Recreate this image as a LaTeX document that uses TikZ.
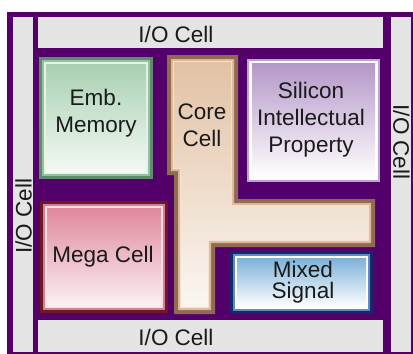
\documentclass[tikz,border=0pt]{standalone}
\usepackage{fontspec}
\setmainfont{Liberation Sans}
\definecolor{bgpurple}{RGB}{83,0,106}
\definecolor{iogray}{RGB}{228,228,228}
\definecolor{embdark}{HTML}{5E8C6C}
\definecolor{embmid}{HTML}{92C29E}
\definecolor{emblight}{HTML}{E6F2E8}
\definecolor{embtop}{HTML}{A9D0B2}
\definecolor{embbot}{HTML}{F3F9F4}
\definecolor{megadark}{HTML}{6E1822}
\definecolor{megamid}{HTML}{D47F96}
\definecolor{megalight}{HTML}{F6E0E6}
\definecolor{megatop}{HTML}{E0899D}
\definecolor{megabot}{HTML}{FBF0F3}
\definecolor{mixdark}{HTML}{17286A}
\definecolor{mixmid}{HTML}{5C8EC2}
\definecolor{mixlight}{HTML}{FFFFFF}
\definecolor{mixtop}{HTML}{7EB2D8}
\definecolor{mixbot}{HTML}{FFFFFF}
\definecolor{silouter}{HTML}{BDA4D4}
\definecolor{siltop}{HTML}{B497C8}
\definecolor{silbot}{HTML}{FFFFFF}
\definecolor{corebrown}{HTML}{8D6C52}
\definecolor{coretan}{HTML}{E0B794}
\definecolor{corelight}{HTML}{F3E2D4}
\definecolor{coretop}{HTML}{E2C2A4}
\definecolor{corebot}{HTML}{FBF6F2}
\definecolor{txt}{HTML}{1A1A1A}
\newcommand\chipbox[9]{%
  \fill[#5] (#1,#2) rectangle (#3,#4);
  \fill[#6] ({#1+3},{#2+3}) rectangle ({#3-3},{#4-3});
  \fill[#7] ({#1+5},{#2+5}) rectangle ({#3-5},{#4-5});
  \shade[top color=#8,bottom color=#9] ({#1+7},{#2+7}) rectangle ({#3-7},{#4-7});}
\newcommand\corefill[2]{%
  \path[#2] ({167+#1},{55+#1}) -- ({238-#1},{55+#1}) -- ({238-#1},{199+#1})
    -- ({375-#1},{199+#1}) -- ({375-#1},{247-#1}) -- ({215-#1},{247-#1})
    -- ({215-#1},{314-#1}) -- ({174+#1},{314-#1}) -- ({174+#1},{175-#1})
    -- ({167+#1},{175-#1}) -- cycle;}
\tikzset{
  lbl/.style={font=\fontsize{22.5}{27}\selectfont, align=center, inner sep=0pt, text=txt},
  iostrip/.style={fill=iogray}
}
\begin{document}
\begin{tikzpicture}[x=1pt,y=-1pt]
\useasboundingbox (0,0) rectangle (413,354);
\fill[white] (0,0) rectangle (413,354);
\fill[bgpurple] (7,12) rectangle (413,354);
% I/O strips
\fill[iostrip] (38,17) rectangle (383,48);
\fill[iostrip] (38,320) rectangle (383,352);
\fill[iostrip] (13,17) rectangle (33,352);
\fill[iostrip] (391,17) rectangle (411,352);
% blocks
\chipbox{39}{57}{153}{179}{embdark}{embmid}{emblight}{embtop}{embbot}
\chipbox{40}{201}{168}{313}{megadark}{megamid}{megalight}{megatop}{megabot}
\chipbox{230}{251}{373}{314}{mixdark}{mixmid}{mixlight}{mixtop}{mixbot}
% silicon IP
\fill[silouter] (247,59) rectangle (380,182);
\fill[white] (249,61) rectangle (378,180);
\shade[top color=siltop,bottom color=silbot] (252,63) rectangle (375,178);
% core
\corefill{0}{fill=corebrown}
\corefill{4}{fill=coretan}
\corefill{6}{fill=corelight}
\corefill{7}{top color=coretop,bottom color=corebot}
% labels
\node[lbl] (iotop) at (176,34) {I/O Cell};
\node[lbl] (iobot) at (176,337) {I/O Cell};
\node[lbl, rotate=90] (ioleft) at (23.5,216) {I/O Cell};
\node[lbl, rotate=-90] (ioright) at (401.5,142) {I/O Cell};
\node[lbl] (emb) at (96,113) {Emb.\\Memory};
\node[lbl] (core) at (202,125) {Core\\Cell};
\node[lbl] (sip) at (311,120) {Silicon\\Intellectual\\Property};
\node[lbl] (mega) at (103,257) {Mega Cell};
\node[lbl, font=\fontsize{22.5}{21}\selectfont] (mixed) at (303,282) {Mixed\\Signal};
\end{tikzpicture}
\end{document}
